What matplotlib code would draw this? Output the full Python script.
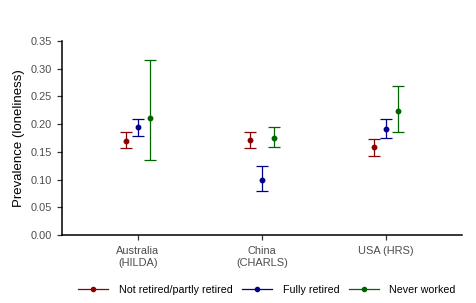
import matplotlib
matplotlib.use('Agg')
import matplotlib.pyplot as plt
import numpy as np

plt.rcParams['font.family'] = ['Liberation Sans', 'DejaVu Sans']

countries = ['Australia\n(HILDA)', 'China\n(CHARLS)', 'USA (HRS)']
groups = ['Not retired/partly retired', 'Fully retired', 'Never worked']
colors = ['#8b0000', '#00008b', '#006400']

# estimates and confidence bounds per group (Australia, China, USA)
est = [[0.170, 0.171, 0.158],
       [0.194, 0.100, 0.192],
       [0.211, 0.175, 0.224]]
low = [[0.157, 0.157, 0.143],
       [0.179, 0.079, 0.175],
       [0.135, 0.158, 0.186]]
high = [[0.185, 0.185, 0.173],
        [0.209, 0.124, 0.210],
        [0.315, 0.194, 0.269]]

fig = plt.figure(figsize=(4.77, 3.03), dpi=100)
ax = fig.add_axes([0.130, 0.2244, 0.8386, 0.6403])

x = np.arange(1, len(countries) + 1)
offsets = [-0.1, 0, 0.1]
for i in range(len(groups)):
    e = np.array(est[i])
    yerr = [e - np.array(low[i]), np.array(high[i]) - e]
    ax.errorbar(x + offsets[i], e, yerr=yerr, fmt='o', color=colors[i],
                markersize=3.2, elinewidth=0.9, capsize=4.5, capthick=0.9,
                label=groups[i])

ax.set_xlim(0.387, 3.613)
ax.set_ylim(0, 0.35)
ax.set_yticks(np.arange(0, 0.351, 0.05))
ax.set_yticklabels([f'{v:.2f}' for v in np.arange(0, 0.351, 0.05)])
ax.set_xticks(x)
ax.set_xticklabels(countries)
ax.set_ylabel('Prevalence (loneliness)', fontsize=9.5, color='black')

for s in ['top', 'right']:
    ax.spines[s].set_visible(False)
for s in ['left', 'bottom']:
    ax.spines[s].set_linewidth(1.1)
ax.tick_params(axis='both', labelsize=7.9, labelcolor='#4d4d4d', color='#333333',
               length=3.5, width=0.9)
ax.tick_params(axis='x', pad=4.5)

handles = [plt.Line2D([], [], color=c, marker='o', markersize=3, linewidth=0.9)
           for c in colors]
fig.legend(handles, groups, loc='lower center', ncol=3, frameon=False,
           fontsize=7.7, bbox_to_anchor=(0.56, -0.005), handlelength=2.75,
           columnspacing=0.95, handletextpad=1.0)

fig.savefig('out.png', dpi=100)
